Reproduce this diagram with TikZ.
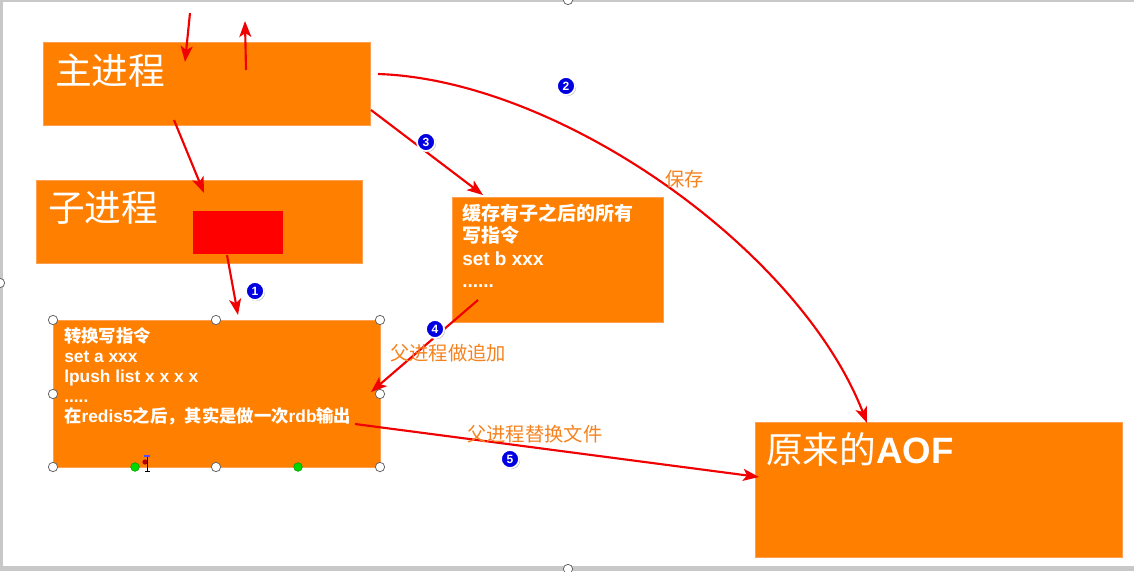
\documentclass[tikz,border=0pt]{standalone}
\usepackage{fontspec}
\setmainfont{Liberation Sans}
\newfontfamily\cjk{Noto Sans CJK SC}
\usetikzlibrary{arrows.meta,shadows}
\definecolor{boxorange}{RGB}{255,128,0}
\definecolor{boxedge}{RGB}{255,160,80}
\definecolor{lbl}{RGB}{245,130,30}
\definecolor{arrowred}{RGB}{240,0,0}
\definecolor{badgeblue}{RGB}{0,0,225}
\definecolor{frame}{RGB}{200,200,200}
\tikzset{
  pbox/.style={fill=boxorange,draw=boxedge,line width=0.5pt},
  conn/.style={draw=arrowred,line width=1.6pt,-{Stealth[length=12pt,width=9pt,inset=3pt]}},
  badge/.style={circle,fill=badgeblue,draw=white,line width=1.3pt,minimum size=13.5pt,inner sep=0pt,
    text=white,font=\bfseries\fontsize{9}{9}\selectfont,
    drop shadow={shadow xshift=0.9pt,shadow yshift=-0.9pt,opacity=0.45}},
  smalltxt/.style={anchor=base west,inner sep=0pt,text=white,font=\bfseries\fontsize{13}{15}\selectfont},
  midtxt/.style={anchor=base west,inner sep=0pt,text=white,font=\bfseries\fontsize{14.25}{16}\selectfont},
  bigtxt/.style={anchor=base west,inner sep=0pt,text=white,font=\fontsize{27.5}{30}\selectfont},
  lbltxt/.style={anchor=base west,inner sep=0pt,text=lbl,font=\cjk\fontsize{14.5}{16}\selectfont},
  handle/.style={circle,fill=white,draw=black!60,line width=0.6pt,minimum size=7pt,inner sep=0pt},
  ghandle/.style={circle,fill=green!85!black,draw=green!60!black,line width=0.4pt,minimum size=6.5pt,inner sep=0pt}
}
\begin{document}
\begin{tikzpicture}[x=0.75pt,y=-0.75pt]
\useasboundingbox (0,0) rectangle (1134,571);
% frame
\fill[frame] (0,0) rectangle (1134,2);
\fill[frame] (0,0) rectangle (3,571);
\fill[frame] (0,566) rectangle (1134,571);
\begin{scope}
\clip (0,0) rectangle (1134,571);
\node[handle] (fh1) at (0,283) {};
\node[handle] (fh2) at (568,0) {};
\node[handle] (fh3) at (568,569) {};
\end{scope}

% boxes
\path[pbox] (43,42) rectangle (370,125);
\path[pbox] (36,180) rectangle (362,263);
\fill[red] (193,211) rectangle (283,254);
\path[pbox] (53,320) rectangle (380,467);
\path[pbox] (452,197) rectangle (663,322);
\path[pbox] (755,422) rectangle (1122,557);

% titles
\node[bigtxt] (tmain) at (55,84) {\cjk 主进程};
\node[bigtxt] (tchild) at (48,221) {\cjk 子进程};
\node[bigtxt] (taof) at (766,463) {{\cjk 原来的}\bfseries AOF};

% lower box text
\node[smalltxt] (l1) at (64,342) {{\cjk\bfseries 转换写指令}};
\node[smalltxt] (l2) at (64,362) {set a xxx};
\node[smalltxt] (l3) at (64,382) {lpush list x x x x};
\node[smalltxt] (l4) at (64,402) {.....};
\node[smalltxt] (l5) at (64,422) {{\cjk\bfseries 在}redis5{\cjk\bfseries 之后，其实是做一次}rdb{\cjk\bfseries 输出}};

% middle box text
\node[midtxt] (m1) at (462,220) {{\cjk\bfseries 缓存有子之后的所有}};
\node[midtxt] (m2) at (462,242) {{\cjk\bfseries 写指令}};
\node[midtxt] (m3) at (462,265) {set b xxx};
\node[midtxt] (m4) at (462,287) {......};

% arrow coordinates
\coordinate (a1s) at (190,13);
\coordinate (a1e) at (185,62);
\coordinate (a2s) at (246,70);
\coordinate (a2e) at (245,21);
\coordinate (a3s) at (174,120);
\coordinate (a3e) at (204,193);
\coordinate (a4s) at (227,255);
\coordinate (a4e) at (238,315);
\coordinate (a5s) at (378,74);
\coordinate (a5e) at (867,423);
\coordinate (a6s) at (371,110);
\coordinate (a6e) at (483,195);
\coordinate (a7s) at (478,300);
\coordinate (a7e) at (371,392);
\coordinate (a8s) at (355,424);
\coordinate (a8e) at (759,477);

\draw[conn] (a1s) -- (a1e);
\draw[conn] (a2s) -- (a2e);
\draw[conn] (a3s) -- (a3e);
\draw[conn] (a4s) -- (a4e);
\draw[conn] (a5s) .. controls (560,80) and (800,250) .. (a5e);
\draw[conn] (a6s) -- (a6e);
\draw[conn] (a7s) -- (a7e);
\draw[conn] (a8s) -- (a8e);

% labels
\node[lbltxt] (lb1) at (665,186) {保存};
\node[lbltxt] (lb2) at (390,360) {父进程做追加};
\node[lbltxt] (lb3) at (467,441) {父进程替换文件};

% badges
\node[badge] (b1) at (255,291) {1};
\node[badge] (b2) at (566,86) {2};
\node[badge] (b3) at (426,142) {3};
\node[badge] (b4) at (435,329) {4};
\node[badge] (b5) at (510,459) {5};

% selection handles
\node[handle] (h1) at (53,320) {};
\node[handle] (h2) at (216,320) {};
\node[handle] (h3) at (380,320) {};
\node[handle] (h4) at (53,394) {};
\node[handle] (h5) at (380,394) {};
\node[handle] (h6) at (53,467) {};
\node[handle] (h7) at (216,467) {};
\node[handle] (h8) at (380,467) {};
\node[ghandle] (g1) at (135,467) {};
\node[ghandle] (g2) at (298,467) {};
\fill[red!70!black] (145,462) circle (2.6);
\draw[black,line width=0.6pt] (147,457) -- (147,471) (145,471) -- (150,471);
\draw[blue!70,line width=0.8pt] (144,456) -- (150,456);
\end{tikzpicture}
\end{document}
